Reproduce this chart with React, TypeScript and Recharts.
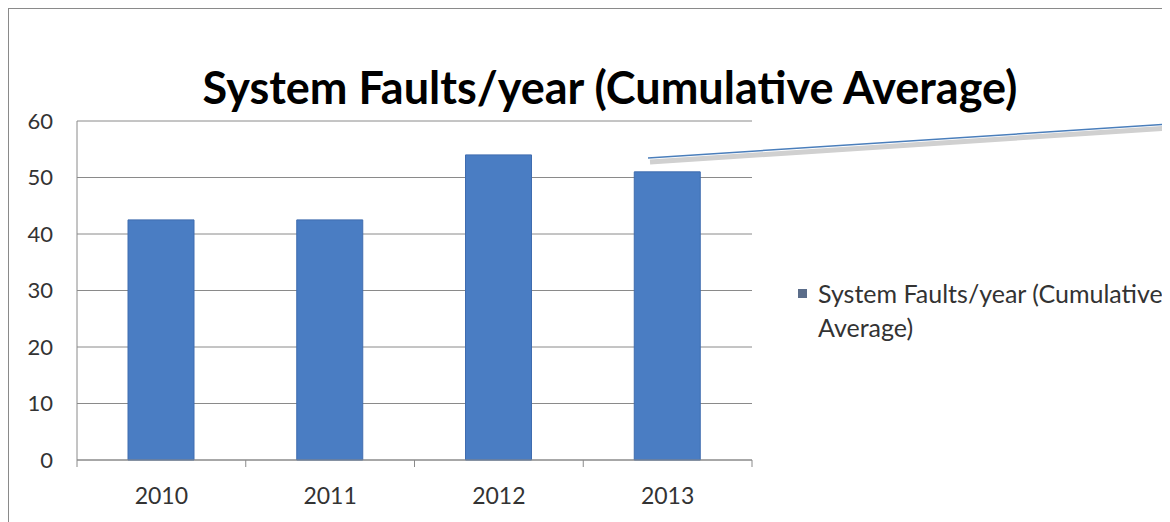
import React from "react";
import { BarChart, Bar, XAxis, YAxis, CartesianGrid } from "recharts";

const categories = ["2010", "2011", "2012", "2013"];
const faults = [42.5, 42.5, 54, 51];
const yTicks = [0, 10, 20, 30, 40, 50, 60];
const seriesName = "System Faults/year (Cumulative Average)";
const titleText = "System Faults/year (Cumulative Average)";
const legendLines = ["System Faults/year (Cumulative", "Average)"];

const data = categories.map((c, i) => ({ year: c, value: faults[i] }));

const W = 1162;
const H = 514;
const PLOT_LEFT = 69;
const PLOT_RIGHT = 744;
const PLOT_TOP = 113;
const PLOT_BOTTOM = 452;
const Y_W = 60;
const X_H = 50;
const FONT = "Lato, 'Open Sans', sans-serif";
const GRID = "#8a8a8a";

const XTick = (props: any) => {
  const { x, y, payload, index } = props;
  const bw = (PLOT_RIGHT - PLOT_LEFT) / categories.length;
  const left = x - bw / 2;
  return (
    <g>
      <line x1={left} y1={y} x2={left} y2={y + 7} stroke={GRID} strokeWidth={1} />
      {index === categories.length - 1 && (
        <line x1={x + bw / 2} y1={y} x2={x + bw / 2} y2={y + 7} stroke={GRID} strokeWidth={1} />
      )}
      <text
        x={x}
        y={y + 35}
        textAnchor="middle"
        dominantBaseline="central"
        fontFamily={FONT}
        fontSize={23}
        fill="#333"
      >
        {payload.value}
      </text>
    </g>
  );
};

export default function App() {
  return (
    <div style={{ position: "relative", width: W, height: H, background: "#fff" }}>
      <div
        style={{
          position: "absolute",
          left: -1,
          top: -1,
          width: W + 10,
          height: H + 10,
          borderLeft: "2px solid #8a8a8a",
          borderTop: "2px solid #8a8a8a",
          pointerEvents: "none",
        }}
      />
      <div
        style={{
          position: "absolute",
          left: 0,
          width: 1204,
          top: 50,
          textAlign: "center",
          fontFamily: FONT,
          fontWeight: 700,
          fontSize: 45,
          lineHeight: "58px",
          color: "#000",
          whiteSpace: "nowrap",
        }}
      >
        {titleText}
      </div>
      <BarChart
        width={W}
        height={H}
        data={data}
        margin={{ top: PLOT_TOP, right: W - PLOT_RIGHT, bottom: H - PLOT_BOTTOM - X_H, left: PLOT_LEFT - Y_W }}
        barCategoryGap="30%"
      >
        <CartesianGrid vertical={false} stroke={GRID} strokeWidth={1} />
        <XAxis
          dataKey="year"
          height={X_H}
          axisLine={{ stroke: GRID }}
          tickLine={false}
          tickSize={0}
          tickMargin={0}
          tick={<XTick />}
          interval={0}
        />
        <YAxis
          width={Y_W}
          domain={[0, 60]}
          ticks={yTicks}
          axisLine={{ stroke: GRID }}
          tickLine={false}
          tickSize={0}
          tickMargin={24}
          tick={{ fontFamily: FONT, fontSize: 22, fill: "#333" }}
        />
        <Bar
          dataKey="value"
          name={seriesName}
          fill="#4a7dc3"
          stroke="#3f6caf"
          strokeWidth={1}
          barSize={66}
          isAnimationActive={false}
        />
      </BarChart>
      <div
        style={{
          position: "absolute",
          left: 790,
          top: 268,
          display: "flex",
          fontFamily: FONT,
          fontSize: 25,
          color: "#333",
          lineHeight: "34px",
        }}
      >
        <div style={{ width: 9, height: 9, background: "#5b6d8a", marginTop: 13, marginRight: 11, flex: "none" }} />
        <div style={{ width: 362, whiteSpace: "nowrap" }}>
          {legendLines[0]}
          <br />
          {legendLines[1]}
        </div>
      </div>
      <svg
        width={W}
        height={H}
        style={{ position: "absolute", left: 0, top: 0, pointerEvents: "none" }}
      >
        <line x1={642} y1={154} x2={1162} y2={120} stroke="#d0d0d0" strokeWidth={5} />
        <line x1={640} y1={150} x2={1162} y2={116} stroke="#4a7ebb" strokeWidth={1.5} />
      </svg>
    </div>
  );
}
